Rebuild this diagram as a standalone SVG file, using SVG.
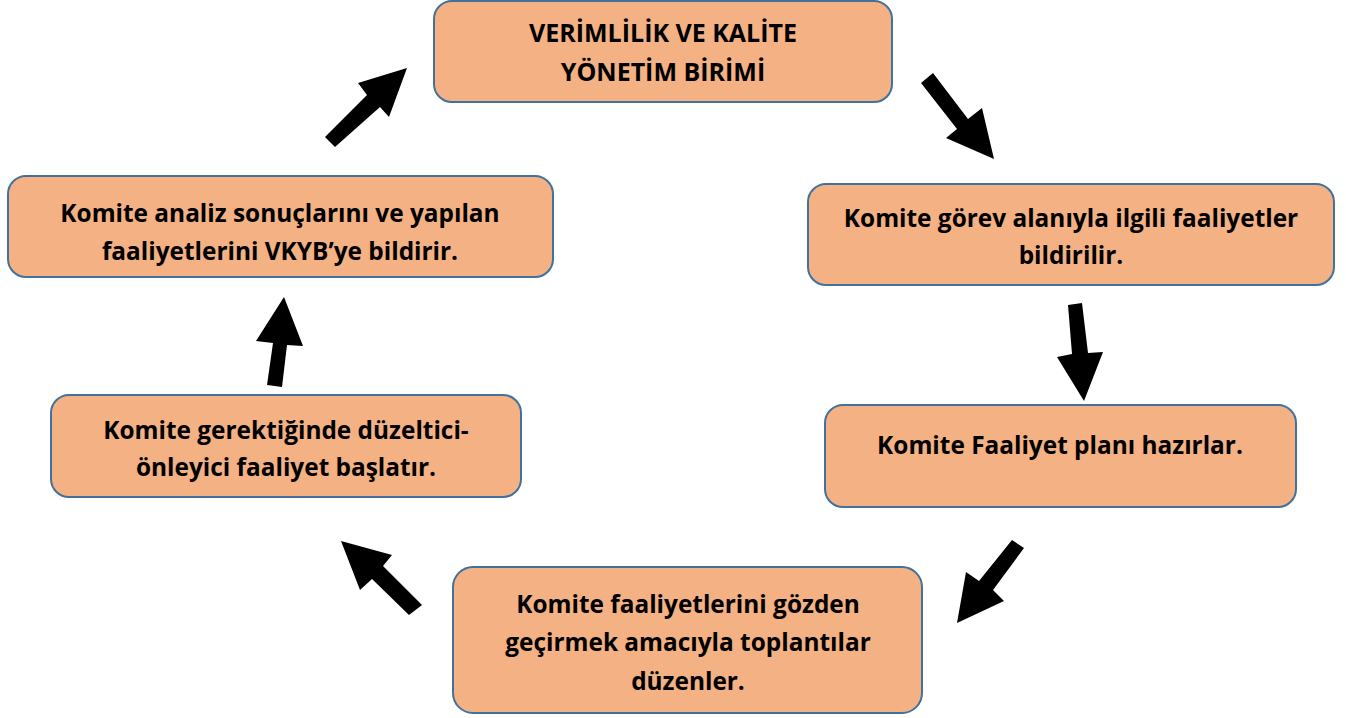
<svg xmlns="http://www.w3.org/2000/svg" width="1346" height="718" viewBox="0 0 1346 718">
  <style>
    .box { fill: #F4B183; stroke: #41719C; stroke-width: 2; }
    .lbl { font-family: "Open Sans", "Liberation Sans", sans-serif; font-weight: 700; font-size: 24.4px; fill: #000; text-anchor: middle; }
    .top { font-size: 25px; }
    .arr { fill: #000; stroke: none; }
  </style>
  <rect width="1346" height="718" fill="#fff"/>
  <g id="node-vkyb">
    <rect class="box" x="434" y="1" width="458" height="101" rx="18"/>
    <text class="lbl top" x="663" y="42">VERİMLİLİK VE KALİTE</text>
    <text class="lbl top" x="663" y="81">YÖNETİM BİRİMİ</text>
  </g>
  <g id="node-bildirilir">
    <rect class="box" x="808" y="184" width="526" height="101" rx="18"/>
    <text class="lbl" x="1071" y="227">Komite görev alanıyla ilgili faaliyetler</text>
    <text class="lbl" x="1071" y="264">bildirilir.</text>
  </g>
  <g id="node-plan">
    <rect class="box" x="825" y="405" width="471" height="102" rx="18"/>
    <text class="lbl" x="1060" y="454">Komite Faaliyet planı hazırlar.</text>
  </g>
  <g id="node-toplanti">
    <rect class="box" x="453" y="567" width="469" height="146" rx="20"/>
    <text class="lbl" x="688" y="613">Komite faaliyetlerini gözden</text>
    <text class="lbl" x="688" y="651">geçirmek amacıyla toplantılar</text>
    <text class="lbl" x="688" y="690">düzenler.</text>
  </g>
  <g id="node-duzeltici">
    <rect class="box" x="51" y="395" width="470" height="102" rx="18"/>
    <text class="lbl" x="286" y="439">Komite gerektiğinde düzeltici-</text>
    <text class="lbl" x="286" y="476">önleyici faaliyet başlatır.</text>
  </g>
  <g id="node-analiz">
    <rect class="box" x="8" y="176" width="545" height="101" rx="18"/>
    <text class="lbl" x="280" y="222">Komite analiz sonuçlarını ve yapılan</text>
    <text class="lbl" x="280" y="260">faaliyetlerini VKYB’ye bildirir.</text>
  </g>
  <g id="connectors">
    <polygon class="arr" points="921,83 957,129 946,138 994,159 982,108 968,119 933,73"/>
    <polygon class="arr" points="1068,305 1072,354 1057,357 1084,401 1103,352 1088,353 1082,303"/>
    <polygon class="arr" points="1012,540 979,581 966,572 957,623 1004,601 993,590 1024,548"/>
    <polygon class="arr" points="341,541 392,555 383,566 422,605 409,615 372,579 360,590"/>
    <polygon class="arr" points="284,297 303,346 287,345 282,387 267,385 273,343 256,341"/>
    <polygon class="arr" points="325,137 367,95 358,83 407,68 389,117 380,107 335,147"/>
  </g>
</svg>
